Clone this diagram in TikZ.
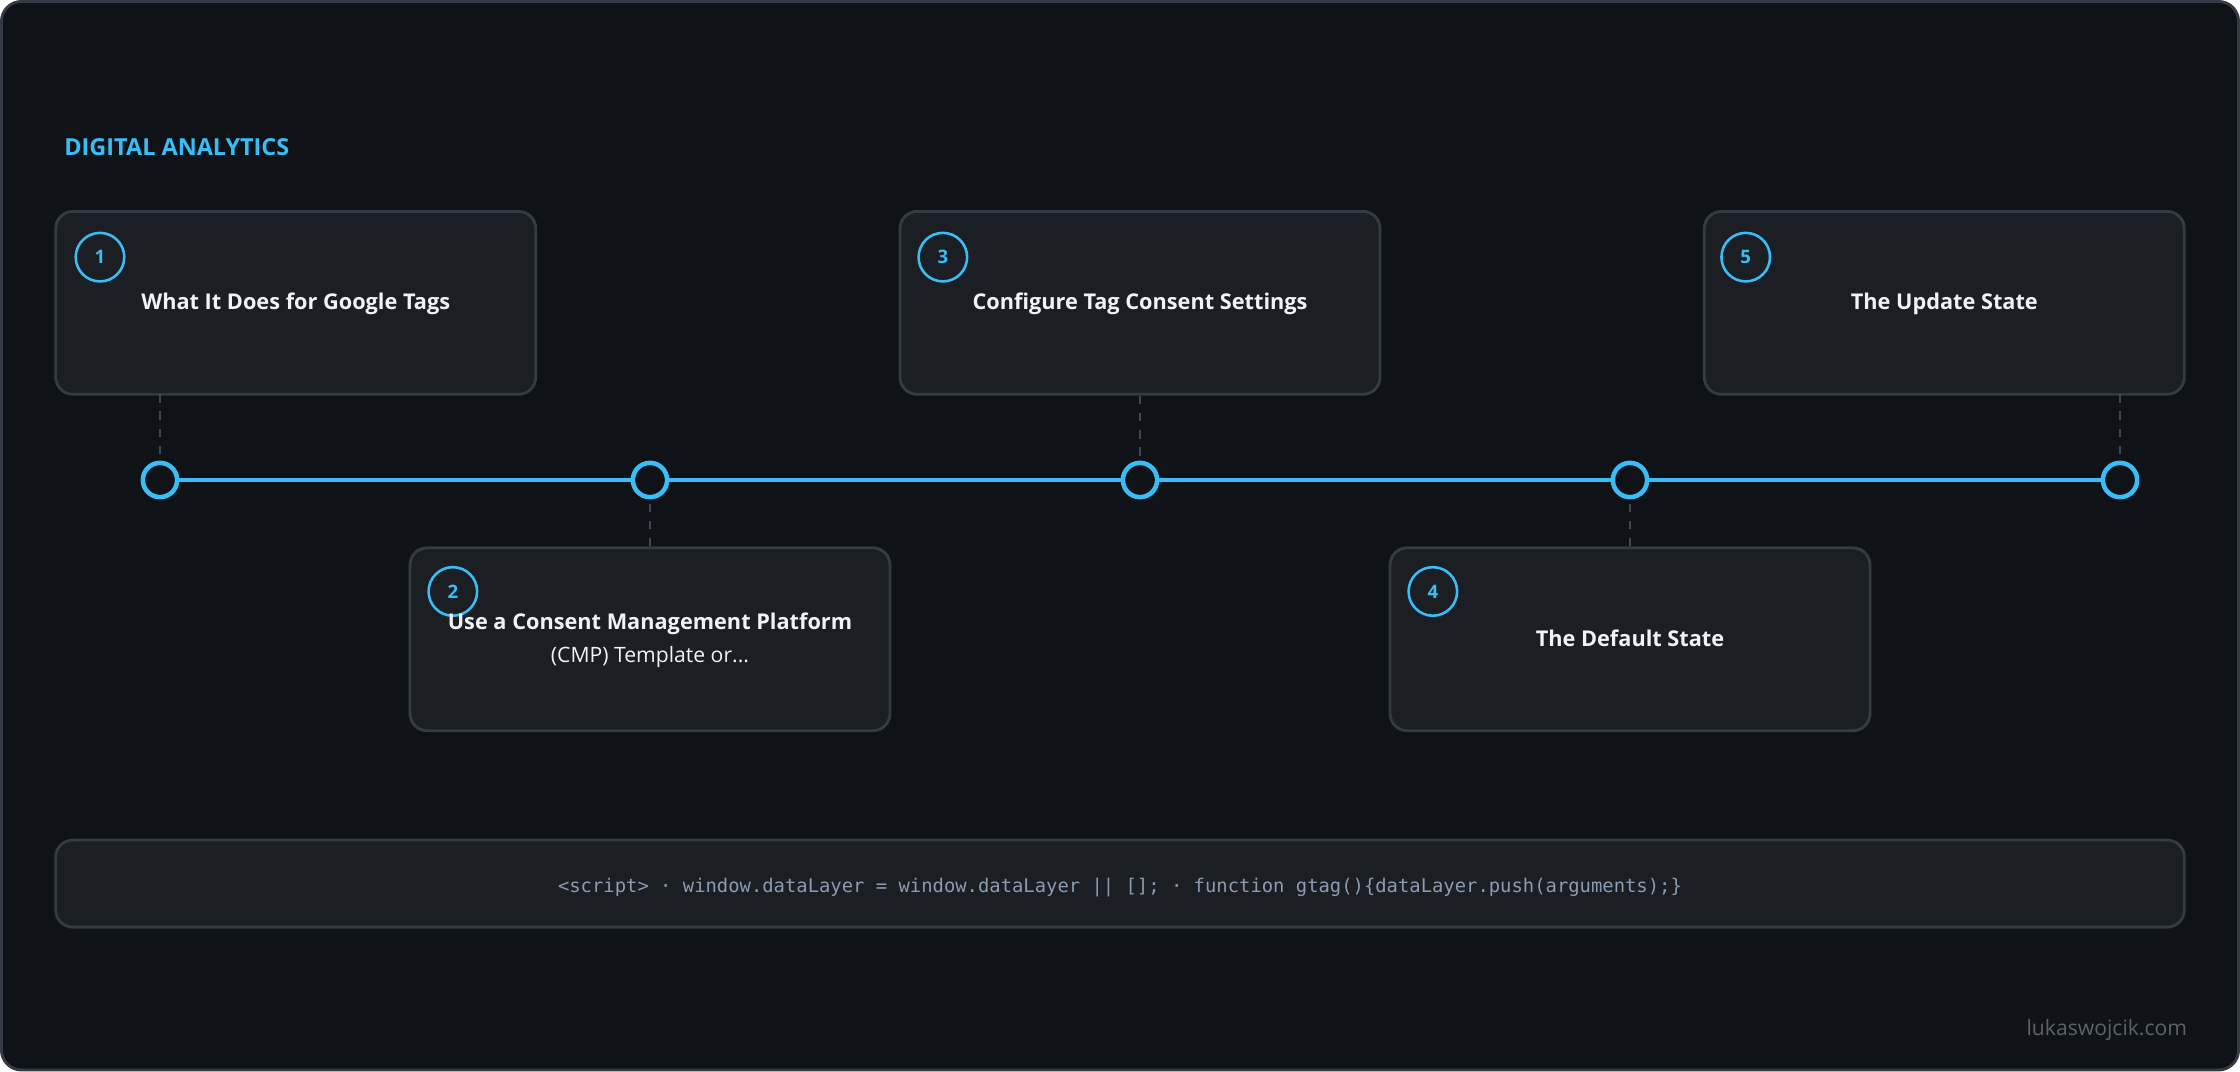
\documentclass[tikz,border=0pt]{standalone}
\usepackage{fontspec}
\setmainfont{Open Sans}
\newfontfamily\codefont{DejaVu Sans Mono}
\definecolor{bgdark}{HTML}{0F1317}
\definecolor{boxfill}{HTML}{1B1F23}
\definecolor{boxline}{HTML}{343B45}
\definecolor{accent}{HTML}{38BDF8}
\definecolor{titletext}{HTML}{F0F3F6}
\definecolor{codetext}{HTML}{8B9BB0}
\definecolor{dashgray}{HTML}{3F4754}
\tikzset{
  card/.style={draw=boxline, line width=1pt, fill=boxfill, rounded corners=6pt,
    minimum width=168pt, minimum height=64pt, inner sep=0pt},
  dot/.style={circle, draw=accent, line width=1.6pt, fill=bgdark, minimum size=12pt, inner sep=0pt},
  num/.style={circle, draw=accent, line width=0.9pt, minimum size=17pt, inner sep=0pt,
    text=accent, font=\fontsize{6.5}{8}\selectfont\bfseries},
  heading/.style={text=titletext, font=\fontsize{7.6}{10}\selectfont\bfseries, align=center},
  stem/.style={draw=dashgray, line width=0.8pt, dash pattern=on 3pt off 3pt}
}
\begin{document}
\begin{tikzpicture}[x=0.5pt, y=-0.5pt]
  % Background frame
  \draw[draw=boxline, line width=1pt, fill=bgdark, rounded corners=7pt] (1,1) rectangle (1567,749);
  \useasboundingbox (0,0) rectangle (1568,750);

  % Title
  \node[anchor=west, text=accent, font=\fontsize{8.2}{10}\selectfont\bfseries] (title) at (38,103) {DIGITAL ANALYTICS};

  % Timeline and its dots
  \coordinate (lineL) at (112,336);
  \coordinate (lineR) at (1484,336);
  \draw[accent, line width=1.6pt] (lineL) -- (lineR);
  \foreach \i/\x in {1/112, 2/455, 3/798, 4/1141, 5/1484}
    \node[dot] (d\i) at (\x,336) {};

  % Cards above and below the line
  \node[card] (c1) at (207,212) {};
  \node[card] (c3) at (798,212) {};
  \node[card] (c5) at (1361,212) {};
  \node[card] (c2) at (455,447.5) {};
  \node[card] (c4) at (1141,447.5) {};

  % Dashed stems from cards to dots
  \coordinate (s1) at (112,276);
  \coordinate (s5) at (1484,276);
  \draw[stem] (s1) -- (d1);
  \draw[stem] (c3.south) -- (d3);
  \draw[stem] (s5) -- (d5);
  \draw[stem] (c2.north) -- (d2);
  \draw[stem] (c4.north) -- (d4);

  % Step numbers
  \node[num] (n1) at (70,180) {1};
  \node[num] (n3) at (660,180) {3};
  \node[num] (n5) at (1222,180) {5};
  \node[num] (n2) at (317,414) {2};
  \node[num] (n4) at (1003,414) {4};

  % Card texts
  \node[heading] (t1) at (207,213) {What It Does for Google Tags};
  \node[heading] (t3) at (798,213) {Configure Tag Consent Settings};
  \node[heading] (t5) at (1361,213) {The Update State};
  \node[heading] (t2) at (455,437) {Use a Consent Management Platform};
  \node[text=titletext, font=\fontsize{7.4}{10}\selectfont] (t2b) at (455,460) {(CMP) Template or...};
  \node[heading] (t4) at (1141,447) {The Default State};

  % Code strip
  \node[card, minimum width=745pt, minimum height=30.5pt] (code) at (784,618.5) {};
  \node[text=codetext, font=\codefont\fontsize{6.6}{8}\selectfont] (codetxt) at (784,621)
    {<script> · window.dataLayer = window.dataLayer || []; · function gtag()\{dataLayer.push(arguments);\}};

  % Footer
  \node[anchor=east, text=boxline!80!white, font=\fontsize{7.4}{9}\selectfont] (site) at (1538,721) {lukaswojcik.com};
\end{tikzpicture}
\end{document}
